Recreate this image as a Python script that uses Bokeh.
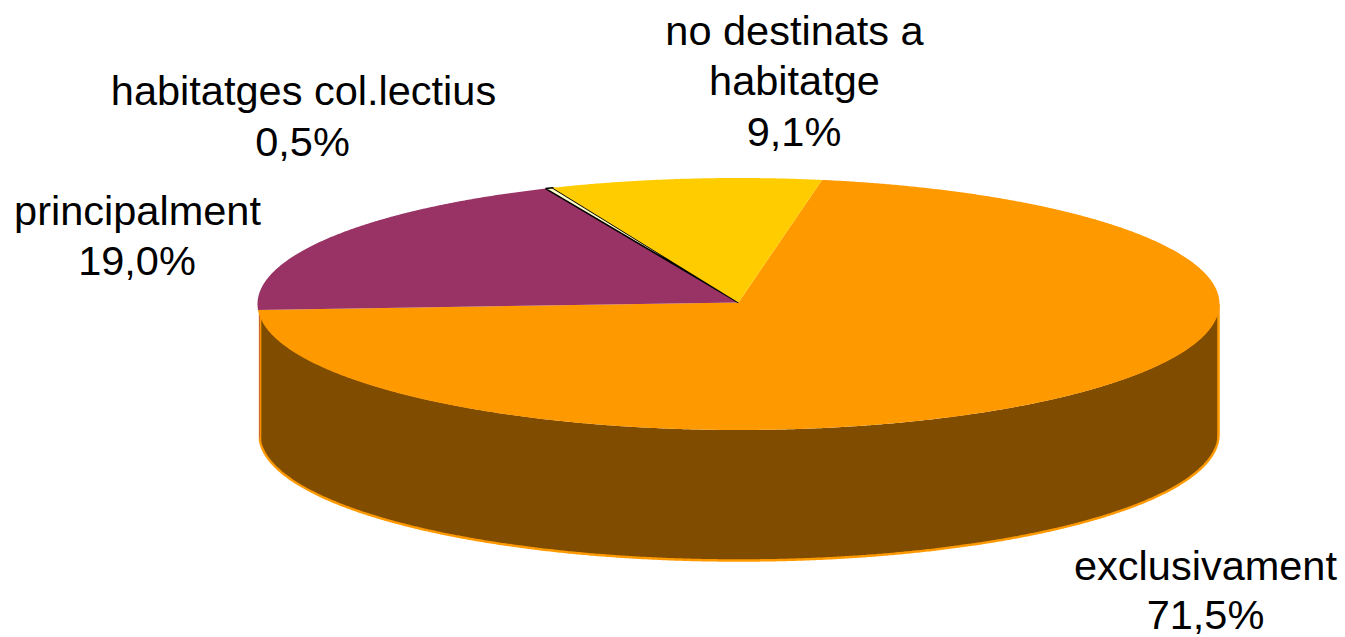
import numpy as np
from bokeh.plotting import figure
from bokeh.embed import file_html
from bokeh.resources import INLINE
from bokeh.core.properties import value

# Data
categories = ["exclusivament", "principalment", "habitatges col.lectius", "no destinats a habitatge"]
label_percent = ["71,5%", "19,0%", "0,5%", "9,1%"]
drawn_share = [71.5, 19.2, 0.25, 9.1]
top_colors = ["#FF9900", "#993366", "#FFFFCC", "#FFCC00"]
top_lines = [None, None, "#000000", None]
wall_colors = ["#804C00", "#993366", "#000000", "#806600"]
label_lines = [["exclusivament", "71,5%"], ["principalment", "19,0%"],
               ["habitatges col.lectius", "0,5%"], ["no destinats a", "habitatge", "9,1%"]]

# Layout (page pixels)
W, H = 1345, 637
CX, CY, RX, RY = 738.0, 303.5, 481.0, 126.0
APEX_Y = 302.0
WCX, WRX, DEPTH = 738.5, 479.5, 130.5
START = 10.0
label_pos = [[(1205, 564.5), (1205, 614.0)], [(137, 209.5), (136.5, 259.5)],
             [(303, 89.5), (302, 140.5)], [(794, 29.5), (794, 79.5), (793.5, 130.5)]]

p = figure(width=W, height=H, x_range=(0, W), y_range=(H, 0), toolbar_location=None,
           output_backend="svg", min_border=0, outline_line_color=None,
           x_axis_location=None, y_axis_location=None)
p.xgrid.visible = False
p.ygrid.visible = False
p.background_fill_color = "white"

shares = np.array(drawn_share, dtype=float)
edges = START + np.concatenate([[0], np.cumsum(shares / shares.sum() * 360)])


def arc(a0, a1, cx, cy, rx, ry):
    t = np.radians(np.linspace(a0, a1, max(int(abs(a1 - a0) * 4), 4)))
    return cx + rx * np.sin(t), cy - ry * np.cos(t)


# Walls: only the front half (90..270 degrees clockwise from the top)
for i in range(len(shares)):
    a0, a1 = max(edges[i], 90.0), min(edges[i + 1], 270.0)
    if a1 <= a0:
        continue
    tx, ty = arc(a0, a1, WCX, CY, WRX, RY)
    bx, by = arc(a1, a0, WCX, CY + DEPTH, WRX, RY)
    p.patch(np.r_[tx, bx], np.r_[ty, by], fill_color=wall_colors[i], line_color=None)
    if i == 0:
        ox, oy = arc(a0, a1, WCX, CY + DEPTH, WRX, RY)
        ex, ey = arc(a1, a1, WCX, CY, WRX, RY)
        sx, sy = arc(a0, a0, WCX, CY, WRX, RY)
        p.line(np.r_[sx[:1], ox, ex[:1]], np.r_[sy[:1], oy, ey[:1]],
               line_color="#FF9900", line_width=2.5)

# Top face
for i in range(len(shares)):
    x, y = arc(edges[i], edges[i + 1], CX, CY, RX, RY)
    p.patch(np.r_[CX, x], np.r_[APEX_Y, y], fill_color=top_colors[i],
            line_color=top_lines[i], line_width=1.6)

# Labels
for lines, pos in zip(label_lines, label_pos):
    for line, (lx, ly) in zip(lines, pos):
        p.text([lx], [ly], text=[line], text_font=value("Liberation Sans"),
               text_font_size="41.5px", text_color="#000000",
               text_align="center", text_baseline="middle")

open("out.html", "w").write(file_html(p, INLINE))
